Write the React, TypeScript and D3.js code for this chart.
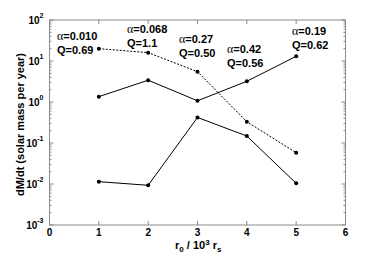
import React from "react";
import * as d3 from "d3";

const xValues = [1, 2, 3, 4, 5];
const dashedSeries = [20, 16, 5.5, 0.33, 0.058];
const upperSeries = [1.35, 3.4, 1.07, 3.2, 13];
const lowerSeries = [0.0114, 0.0093, 0.42, 0.148, 0.0104];
const alphaLabels = ["0.010", "0.068", "0.27", "0.42", "0.19"];
const qLabels = ["0.69", "1.1", "0.50", "0.56", "0.62"];
const xTicks = [0, 1, 2, 3, 4, 5, 6];
const yExponents = [-3, -2, -1, 0, 1, 2];

export default function App() {
  const W = 382, H = 263;
  const left = 49.5, right = 345.5, top = 20, bottom = 225;
  const x = d3.scaleLinear().domain([0, 6]).range([left, right]);
  const y = d3.scaleLog().domain([1e-3, 1e2]).range([bottom, top]);
  const line = d3.line<number>().x((_, i) => x(xValues[i])).y((d) => y(d));
  const grey = "#8a8a8a";
  const font = "Liberation Sans, Arial, sans-serif";
  const minor: number[] = [];
  for (let e = -3; e < 2; e++) for (let k = 2; k <= 9; k++) minor.push(k * Math.pow(10, e));
  const annLeft = [57, 127, 179, 227, 292];
  const annBase = [40, 33, 43, 53, 35];
  return (
    <svg width={W} height={H} style={{ position: "absolute", left: 0, top: 0 }} fontFamily={font}>
      <rect width={W} height={H} fill="white" />
      <rect x={left} y={top} width={right - left} height={bottom - top} fill="none" stroke={grey} strokeWidth={1} />
      {xTicks.map((t) => (
        <g key={"xt" + t}>
          <line x1={x(t)} x2={x(t)} y1={bottom} y2={bottom - 4} stroke={grey} />
          <line x1={x(t)} x2={x(t)} y1={top} y2={top + 4} stroke={grey} />
          <text x={x(t)} y={bottom + 11} textAnchor="middle" fontSize={10} fontWeight="bold">{t}</text>
        </g>
      ))}
      {yExponents.map((e) => (
        <g key={"yt" + e}>
          <line x1={left} x2={left + 4} y1={y(Math.pow(10, e))} y2={y(Math.pow(10, e))} stroke={grey} />
          <line x1={right} x2={right - 4} y1={y(Math.pow(10, e))} y2={y(Math.pow(10, e))} stroke={grey} />
          <text x={left - 6} y={y(Math.pow(10, e)) + 4} textAnchor="end" fontSize={10} fontWeight="bold">
            10
            <tspan dy={-6} fontSize={7}>{e}</tspan>
          </text>
        </g>
      ))}
      {minor.map((m, i) => (
        <g key={"mn" + i}>
          <line x1={left} x2={left + 2} y1={y(m)} y2={y(m)} stroke={grey} />
          <line x1={right} x2={right - 2} y1={y(m)} y2={y(m)} stroke={grey} />
        </g>
      ))}
      <path d={line(dashedSeries) || ""} fill="none" stroke="black" strokeWidth={1} strokeDasharray="2,1.5" />
      <path d={line(upperSeries) || ""} fill="none" stroke="black" strokeWidth={1} />
      <path d={line(lowerSeries) || ""} fill="none" stroke="black" strokeWidth={1} />
      {[dashedSeries, upperSeries, lowerSeries].map((s, si) =>
        s.map((v, i) => <circle key={si + "-" + i} cx={x(xValues[i])} cy={y(v)} r={2} fill="black" />)
      )}
      {alphaLabels.map((a, i) => (
        <g key={"ann" + i}>
          <text x={annLeft[i]} y={annBase[i]} fontSize={11} fontWeight="bold">
            <tspan fontFamily="Liberation Serif, serif" fontWeight="normal" fontSize={12}>α</tspan>=
            {a}
          </text>
          <text x={annLeft[i]} y={annBase[i] + 14} fontSize={11} fontWeight="bold">Q={qLabels[i]}</text>
        </g>
      ))}
      <text x={175} y={249} fontSize={11} fontWeight="bold">
        r<tspan dy={3} fontSize={8}>0</tspan>
        <tspan dy={-3}> / 10</tspan>
        <tspan dy={-4} fontSize={8}>3</tspan>
        <tspan dy={4}> r</tspan>
        <tspan dy={3} fontSize={8}>s</tspan>
      </text>
      <text transform={`translate(24, ${(top + bottom) / 2 + 2}) rotate(-90)`} textAnchor="middle" fontSize={11} fontWeight="bold">
        dM/dt (solar mass per year)
      </text>
    </svg>
  );
}
